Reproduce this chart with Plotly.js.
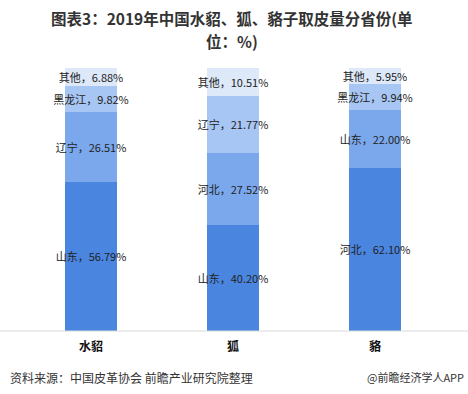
<!DOCTYPE html>
<html>
<head>
<meta charset="utf-8">
<script src="https://cdn.plot.ly/plotly-3.0.1.min.js"></script>
<style>html,body{margin:0;padding:0;background:#fff;}#chart{width:468px;height:394px;}</style>
</head>
<body>
<div id="chart"></div>
<script>
const categories = ['水貂', '狐', '貉'];
// segments from bottom to top
const level1Names = ['山东', '山东', '河北'];
const level1Values = [56.79, 40.20, 62.10];
const level2Names = ['辽宁', '河北', '山东'];
const level2Values = [26.51, 27.52, 22.00];
const level3Names = ['黑龙江', '辽宁', '黑龙江'];
const level3Values = [9.82, 21.77, 9.94];
const level4Names = ['其他', '其他', '其他'];
const level4Values = [6.88, 10.51, 5.95];

const colors = ['#4a86e0', '#7ba8ec', '#a8c6f3', '#dde8f9'];
const levels = [
  [level1Names, level1Values],
  [level2Names, level2Values],
  [level3Names, level3Values],
  [level4Names, level4Values]
];
const cjk = '"Noto Sans CJK SC", "Noto Sans", sans-serif';
const traces = levels.map(([names, vals], i) => ({
  type: 'bar',
  x: categories,
  y: vals,
  marker: {color: colors[i], line: {width: 0}},
  text: names.map((n, j) => n + '，' + vals[j].toFixed(2) + '%'),
  textposition: 'inside',
  insidetextanchor: 'middle',
  constraintext: 'none',
  textangle: 0,
  textfont: {family: cjk, size: 11, color: '#222'},
  hoverinfo: 'none',
  showlegend: false
}));

const titleFont = {family: cjk, size: 15.5, color: '#333'};
const layout = {
  width: 468, height: 394,
  margin: {l: 20, r: 22, t: 68, b: 63},
  barmode: 'stack',
  bargap: 0.64,
  paper_bgcolor: '#fff', plot_bgcolor: '#fff',
  xaxis: {
    type: 'category',
    showline: false, showgrid: false, zeroline: false,
    ticks: '', tickfont: {family: cjk, size: 12, color: '#111', weight: 'bold'},
    ticklabelstandoff: 7
  },
  yaxis: {
    range: [0, 100], visible: false, showgrid: false, zeroline: false, fixedrange: true
  },
  shapes: [{
    type: 'line', xref: 'paper', yref: 'paper', x0: -0.05, x1: 1.06, y0: 0, y1: 0,
    line: {color: '#d9d9d9', width: 1}
  }],
  annotations: [
    {text: '<b>图表3：2019年中国水貂、狐、貉子取皮量分省份(单</b>', xref: 'paper', yref: 'paper',
     x: 0.497, y: 1.190, xanchor: 'center', yanchor: 'middle', showarrow: false,
     font: titleFont},
    {text: '<b>位：%)</b>', xref: 'paper', yref: 'paper',
     x: 0.497, y: 1.104, xanchor: 'center', yanchor: 'middle', showarrow: false,
     font: titleFont},
    {text: '资料来源：中国皮革协会 前瞻产业研究院整理', xref: 'paper', yref: 'paper',
     x: -0.028, y: -0.175, xanchor: 'left', yanchor: 'middle', showarrow: false,
     font: {family: cjk, size: 12, color: '#333'}},
    {text: '@前瞻经济学人APP', xref: 'paper', yref: 'paper',
     x: 1.048, y: -0.175, xanchor: 'right', yanchor: 'middle', showarrow: false,
     font: {family: cjk, size: 11, color: '#333'}}
  ]
};

Plotly.newPlot('chart', traces, layout, {staticPlot: true, displayModeBar: false});
</script>
</body>
</html>
